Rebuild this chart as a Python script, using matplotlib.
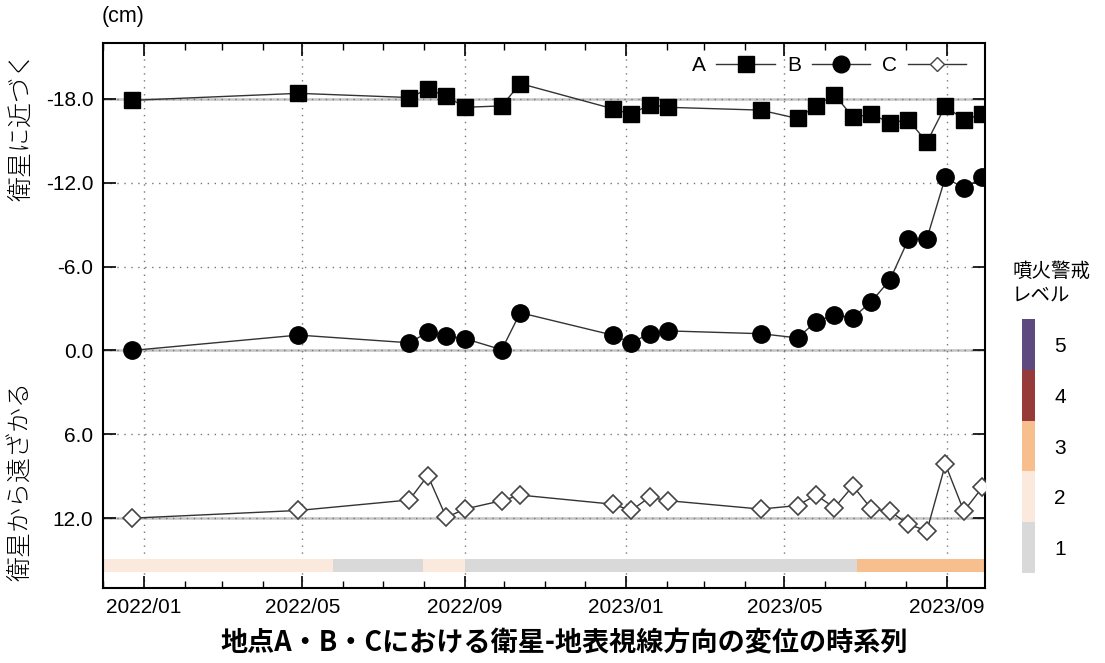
import numpy as np
import matplotlib
matplotlib.use('Agg')
import matplotlib.pyplot as plt
import matplotlib.dates as mdates
from matplotlib.ticker import FormatStrFormatter
from matplotlib.lines import Line2D

plt.rcParams['font.family'] = ['Liberation Sans', 'Noto Sans CJK JP']

# ---- observation dates (14-day repeat) ----
dates = np.array([
    '2021-12-23', '2022-04-28', '2022-07-21', '2022-08-04', '2022-08-18',
    '2022-09-01', '2022-09-29', '2022-10-13', '2022-12-22', '2023-01-05',
    '2023-01-19', '2023-02-02', '2023-04-13', '2023-05-11', '2023-05-25',
    '2023-06-08', '2023-06-22', '2023-07-06', '2023-07-20', '2023-08-03',
    '2023-08-17', '2023-08-31', '2023-09-14', '2023-09-28'], dtype='datetime64[D]')

# line-of-sight displacement (cm), offset per site
disp_a = [-17.9, -18.4, -18.1, -18.7, -18.2, -17.4, -17.5, -19.1, -17.3, -16.9,
          -17.6, -17.4, -17.2, -16.6, -17.5, -18.3, -16.7, -16.9, -16.3, -16.5,
          -14.9, -17.5, -16.5, -16.9]
disp_b = [0.0, -1.1, -0.55, -1.3, -1.05, -0.85, -0.05, -2.7, -1.1, -0.55,
          -1.2, -1.4, -1.2, -0.9, -2.05, -2.55, -2.35, -3.5, -5.05, -7.95,
          -8.0, -12.4, -11.6, -12.4]
disp_c = [12.0, 11.45, 10.7, 8.95, 11.95, 11.35, 10.75, 10.35, 11.0, 11.45,
          10.5, 10.75, 11.35, 11.1, 10.35, 11.25, 9.7, 11.35, 11.5, 12.45,
          12.9, 8.15, 11.5, 9.8]
baselines = [-18.0, 0.0, 12.0]

# volcanic alert level history
level_start = ['2021-12-01', '2022-05-24', '2022-07-31', '2022-09-01', '2023-06-25']
level_end = ['2022-05-24', '2022-07-31', '2022-09-01', '2023-06-25', '2023-09-30']
level_val = [2, 1, 2, 1, 3]

levels = [1, 2, 3, 4, 5]
level_colors = {1: '#d9d9d9', 2: '#fce9dd', 3: '#f8bf8e', 4: '#963a3a', 5: '#5e4a7e'}

fig = plt.figure(figsize=(11.05, 6.63), dpi=100)
ax = fig.add_axes([0.0932, 0.1131, 0.7982, 0.822])

line_kw = dict(color='#333333', linewidth=1.0)
ax.plot(dates, disp_a, marker='s', markersize=11.5, markerfacecolor='black',
        markeredgecolor='black', zorder=5, **line_kw)
ax.plot(dates, disp_b, marker='o', markersize=12.5, markerfacecolor='black',
        markeredgecolor='black', zorder=5, **line_kw)
ax.plot(dates, disp_c, marker='D', markersize=9, markerfacecolor='white',
        markeredgecolor='#444444', markeredgewidth=1.2, zorder=5, **line_kw)

for b in baselines:
    ax.axhline(b, color='#c4c4c4', linewidth=1.8, zorder=1)

# alert level band along the bottom
for s, e, lv in zip(level_start, level_end, level_val):
    s = mdates.datestr2num(s)
    e = mdates.datestr2num(e)
    ax.broken_barh([(s, e - s)], (14.93, 0.9), facecolors=level_colors[lv],
                   edgecolor='none', zorder=2)

ax.set_xlim(mdates.datestr2num('2021-12-01'), mdates.datestr2num('2023-09-30'))
ax.set_ylim(17.0, -22.0)
ax.set_yticks([-18, -12, -6, 0, 6, 12])
ax.yaxis.set_major_formatter(FormatStrFormatter('%.1f'))
ax.xaxis.set_major_locator(mdates.MonthLocator(bymonth=[1, 5, 9]))
ax.xaxis.set_minor_locator(mdates.MonthLocator())
ax.xaxis.set_major_formatter(mdates.DateFormatter('%Y/%m'))

ax.tick_params(axis='both', which='major', direction='in', length=9, width=1.2,
               labelsize=15, top=True, right=True, pad=7)
ax.tick_params(axis='x', which='minor', direction='in', length=5, width=1.0,
               top=True)
ax.grid(True, which='major', linestyle=(0, (1, 4)), color='#777777', linewidth=1.0)
for sp in ax.spines.values():
    sp.set_linewidth(1.5)

handles = [
    Line2D([], [], marker='s', markersize=11, color='#333333', linewidth=1.0,
           markerfacecolor='black', markeredgecolor='black'),
    Line2D([], [], marker='o', markersize=12, color='#333333', linewidth=1.0,
           markerfacecolor='black', markeredgecolor='black'),
    Line2D([], [], marker='D', markersize=7, color='#333333', linewidth=1.0,
           markerfacecolor='white', markeredgecolor='#444444'),
]
ax.legend(handles, ['A', 'B', 'C'], loc='upper right', ncol=3, frameon=False,
          markerfirst=False, handlelength=2.8, columnspacing=0.6,
          handletextpad=0.5, fontsize=15, bbox_to_anchor=(1.0, 1.01))

fig.text(0.092, 0.975, '(cm)', fontsize=15.5, ha='left', va='center')
fig.text(0.019, 0.81, '衛星に近づく', rotation=90, fontsize=18, ha='center',
         va='center', family='Noto Sans CJK JP', fontweight='light')
fig.text(0.019, 0.275, '衛星から遠ざかる', rotation=90, fontsize=18, ha='center',
         va='center', family='Noto Sans CJK JP', fontweight='light')
fig.text(0.511, 0.03, '地点A・B・Cにおける衛星-地表視線方向の変位の時系列',
         fontsize=19.5, fontweight='bold', ha='center', va='center',
         family='Noto Sans CJK JP')

# alert level key
cax = fig.add_axes([0.9249, 0.1357, 0.0118, 0.3831])
for lv in levels:
    cax.bar(0, 1, bottom=lv - 0.5, width=1, color=level_colors[lv])
cax.set_xlim(-0.5, 0.5)
cax.set_ylim(0.5, 5.5)
cax.set_xticks([])
cax.set_yticks(levels)
cax.yaxis.tick_right()
cax.tick_params(axis='y', length=0, labelsize=15, pad=14)
for sp in cax.spines.values():
    sp.set_visible(False)
fig.text(0.916, 0.572, '噴火警戒\nレベル', fontsize=14, ha='left', va='center',
         family='Noto Sans CJK JP', linespacing=1.25)

fig.savefig('out.png', dpi=100)
